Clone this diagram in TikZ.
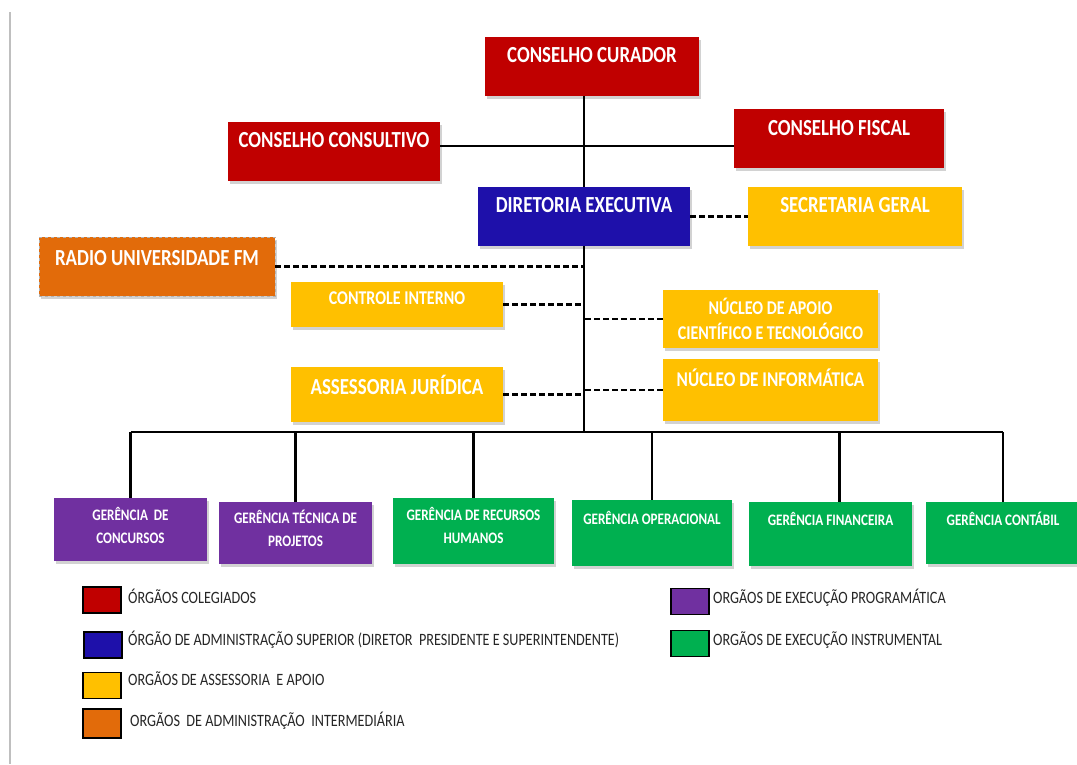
\documentclass[tikz,border=0pt]{standalone}
\usepackage{fontspec}
\usepackage{xcolor}
\usetikzlibrary{shadows}
\newfontfamily\orgfont{Carlito}[FakeStretch=0.82]
\definecolor{colred}{HTML}{C00000}
\definecolor{colblue}{RGB}{30,16,170}
\definecolor{colyellow}{HTML}{FFC000}
\definecolor{colorange}{HTML}{E26B0A}
\definecolor{colpurple}{HTML}{7030A0}
\definecolor{colgreen}{HTML}{00B050}

\begin{document}
\begin{tikzpicture}[x=1pt,y=-1pt,
  orgbox/.style={fill=#1, inner sep=0pt, drop shadow={shadow xshift=1.5pt,shadow yshift=-2.5pt,opacity=.35}},
  bigtext/.style={anchor=center, text=white, font=\orgfont\bfseries\fontsize{23}{27}\selectfont},
  midtext/.style={anchor=center, text=white, align=center, font=\orgfont\bfseries\fontsize{19.5}{25}\selectfont},
  smalltext/.style={anchor=center, text=white, align=center, font=\orgfont\bfseries\fontsize{16}{23}\selectfont},
  link/.style={line width=2.2pt},
  dotlink/.style={line width=2.4pt, dash pattern=on 6pt off 3pt},
  key/.style={fill=#1, draw=black, line width=1.2pt, minimum width=38pt, minimum height=26pt, inner sep=0pt},
  keytext/.style={anchor=base west, inner sep=0pt, text=black!85, font=\orgfont\fontsize{17.3}{20}\selectfont}]
\fill[white] (0,0) rectangle (1077,764);
\useasboundingbox (0,0) rectangle (1077,764);
\draw[gray!50, line width=2pt] (10,12) -- (10,764);

% conselhos
\node (cur) [orgbox=colred, minimum width=214pt, minimum height=59pt, label={[bigtext, yshift=-18pt]north:CONSELHO CURADOR}] at (592,66.5) {};
\node (cons) [orgbox=colred, minimum width=212pt, minimum height=59pt, label={[bigtext, yshift=-18pt]north:CONSELHO CONSULTIVO}] at (334,151.5) {};
\node (fis) [orgbox=colred, minimum width=210pt, minimum height=59pt, label={[bigtext, yshift=-19pt]north:CONSELHO FISCAL}] at (839,138.5) {};
\node (dir) [orgbox=colblue, minimum width=212pt, minimum height=59pt, label={[bigtext, yshift=-18pt]north:DIRETORIA EXECUTIVA}] at (584,216.5) {};
\node (sec) [orgbox=colyellow, minimum width=214pt, minimum height=59pt, label={[bigtext, yshift=-18pt]north:SECRETARIA GERAL}] at (855,216.5) {};
\node (radio) [orgbox=colorange, draw=gray!60, dashed, minimum width=236pt, minimum height=59pt, label={[bigtext, yshift=-21pt]north:RADIO UNIVERSIDADE FM}] at (157,266.5) {};

% assessoria e apoio
\node (ci) [orgbox=colyellow, minimum width=212pt, minimum height=45pt, label={[midtext, yshift=-16pt]north:CONTROLE INTERNO}] at (397,304.5) {};
\node (aj) [orgbox=colyellow, minimum width=212pt, minimum height=55pt, label={[bigtext, yshift=-18pt]north:ASSESSORIA JURÍDICA}] at (397,394.5) {};
\node (nap) [orgbox=colyellow, minimum width=215pt, minimum height=58pt, label={[midtext]center:NÚCLEO DE APOIO\\CIENTÍFICO E TECNOLÓGICO}] at (770.5,319) {};
\node (ninf) [orgbox=colyellow, minimum width=215pt, minimum height=62pt, label={[midtext, font=\orgfont\bfseries\fontsize{21}{25}\selectfont, yshift=-19pt]north:NÚCLEO DE INFORMÁTICA}] at (770.5,390) {};

% gerencias
\node (gc) [orgbox=colpurple, minimum width=153pt, minimum height=63pt, label={[smalltext, yshift=-27.5pt]north:GERÊNCIA~ DE\\CONCURSOS}] at (130.5,529.5) {};
\node (gt) [orgbox=colpurple, minimum width=153pt, minimum height=62pt, label={[smalltext, yshift=-26.5pt]north:GERÊNCIA TÉCNICA DE\\PROJETOS}] at (295.5,533) {};
\node (grh) [orgbox=colgreen, minimum width=161pt, minimum height=66pt, label={[smalltext, yshift=-27.5pt]north:GERÊNCIA DE RECURSOS\\HUMANOS}] at (473.5,531) {};
\node (go) [orgbox=colgreen, minimum width=160pt, minimum height=66pt, label={[smalltext, yshift=-18pt]north:GERÊNCIA OPERACIONAL}] at (652,533) {};
\node (gf) [orgbox=colgreen, minimum width=163pt, minimum height=64pt, label={[smalltext, yshift=-17pt]north:GERÊNCIA FINANCEIRA}] at (830.5,534) {};
\node (gcont) [orgbox=colgreen, minimum width=154pt, minimum height=62pt, label={[smalltext, yshift=-17pt]north:GERÊNCIA CONTÁBIL}] at (1003,533) {};

% ligacoes
\coordinate (mid) at (584,146);
\coordinate (bar) at (584,432);
\draw[link] (cur.south -| dir.north) -- (dir.north);
\draw[link] (cons.east |- mid) -- (fis.west |- mid);
\draw[link] (dir.south) -- (bar);
\draw[link] (bar -| gc.north) -- (bar -| gcont.north);
\foreach \g in {gc,gt,grh,go,gcont}
  \draw[link] (bar -| \g.north) -- (\g.north);
\draw[link] (gf.north) ++(9,0) |- (bar);
\draw[dotlink] (dir.east) -- (sec.west);
\foreach \a in {radio,ci,aj}
  \draw[dotlink] (\a.east) -- (\a.east -| dir.south);
\foreach \a in {nap,ninf}
  \draw[dotlink] (\a.west) -- (\a.west -| dir.south);

% legenda
\node (k1) [key=colred] at (102,600) {};
\node (k2) [key=colblue] at (103,645) {};
\node (k3) [key=colyellow] at (102,685.5) {};
\node (k4) [key=colorange, minimum height=29pt] at (102,723.5) {};
\node (k5) [key=colpurple] at (690,601.5) {};
\node (k6) [key=colgreen] at (690,643.5) {};
\node (k1t) [keytext] at (128,603) {ÓRGÃOS COLEGIADOS};
\node (k2t) [keytext] at (128,645) {ÓRGÃO DE ADMINISTRAÇÃO SUPERIOR (DIRETOR~ PRESIDENTE E SUPERINTENDENTE)};
\node (k3t) [keytext] at (128,685) {ORGÃOS DE ASSESSORIA~ E APOIO};
\node (k4t) [keytext] at (130,726) {ORGÃOS~ DE ADMINISTRAÇÃO~ INTERMEDIÁRIA};
\node (k5t) [keytext] at (713,603) {ORGÃOS DE EXECUÇÃO PROGRAMÁTICA};
\node (k6t) [keytext] at (713,645) {ORGÃOS DE EXECUÇÃO INSTRUMENTAL};
\end{tikzpicture}
\end{document}
